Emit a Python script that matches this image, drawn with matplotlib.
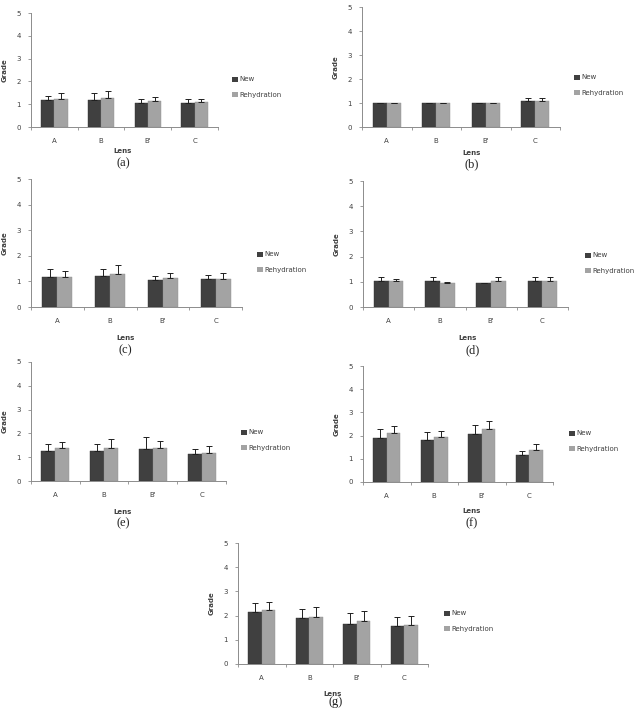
import matplotlib
matplotlib.use("Agg")
import matplotlib.pyplot as plt
import numpy as np
from matplotlib.patches import Patch

W, H = 638, 709

categories = ["A", "B", "B'", "C"]
series_names = ["New", "Rehydration"]
panel_labels = ["(a)", "(b)", "(c)", "(d)", "(e)", "(f)", "(g)"]

# mean values and upper error (+SD) for each panel
a_new = [1.17, 1.20, 1.06, 1.06]
a_new_err = [0.18, 0.28, 0.16, 0.16]
a_reh = [1.23, 1.27, 1.14, 1.09]
a_reh_err = [0.26, 0.31, 0.17, 0.16]

b_new = [1.00, 1.00, 1.00, 1.07]
b_new_err = [0.0, 0.0, 0.0, 0.12]
b_reh = [1.00, 1.00, 1.00, 1.07]
b_reh_err = [0.0, 0.0, 0.0, 0.12]

c_new = [1.19, 1.22, 1.06, 1.10]
c_new_err = [0.28, 0.27, 0.15, 0.16]
c_reh = [1.19, 1.30, 1.15, 1.10]
c_reh_err = [0.22, 0.34, 0.16, 0.21]

d_new = [1.05, 1.05, 0.96, 1.05]
d_new_err = [0.13, 0.13, 0.01, 0.13]
d_reh = [1.05, 0.96, 1.05, 1.05]
d_reh_err = [0.08, 0.02, 0.13, 0.13]

e_new = [1.28, 1.27, 1.33, 1.15]
e_new_err = [0.26, 0.29, 0.50, 0.18]
e_reh = [1.37, 1.37, 1.37, 1.19]
e_reh_err = [0.28, 0.40, 0.33, 0.28]

f_new = [1.89, 1.82, 2.05, 1.16]
f_new_err = [0.39, 0.33, 0.40, 0.16]
f_reh = [2.13, 1.92, 2.28, 1.38]
f_reh_err = [0.29, 0.29, 0.37, 0.27]

g_new = [2.16, 1.91, 1.67, 1.56]
g_new_err = [0.35, 0.35, 0.42, 0.38]
g_reh = [2.25, 1.96, 1.76, 1.63]
g_reh_err = [0.31, 0.40, 0.44, 0.35]

panels = [
    (a_new, a_new_err, a_reh, a_reh_err),
    (b_new, b_new_err, b_reh, b_reh_err),
    (c_new, c_new_err, c_reh, c_reh_err),
    (d_new, d_new_err, d_reh, d_reh_err),
    (e_new, e_new_err, e_reh, e_reh_err),
    (f_new, f_new_err, f_reh, f_reh_err),
    (g_new, g_new_err, g_reh, g_reh_err),
]

# layout in pixels: axes box (x0, ytop, x1, ybottom), legend (x, y), Lens label (x, y), caption (x, y)
layout = [
    ((31, 13, 218, 127), (229, 87), (123, 151), (123, 163)),
    ((362, 7, 560, 127), (571, 85), (472, 153), (472, 164)),
    ((31, 179, 242, 307), (254, 262), (126, 338), (125, 350)),
    ((363, 181, 568, 307), (582, 263), (468, 338), (473, 350)),
    ((31, 362, 226, 481), (238, 440), (123, 512), (123, 523)),
    ((363, 366, 553, 482), (566, 441), (472, 511), (472, 523)),
    ((238, 543, 428, 664), (441, 621), (333, 694), (336, 702)),
]

dark = "#404040"
light = "#a3a3a3"
axis_col = "#8c8c8c"
text_col = "#404040"

fig = plt.figure(figsize=(W / 100, H / 100), dpi=100)
fig.patch.set_facecolor("white")

bw = 1 / 3.5
x = np.arange(len(categories))

for (new, new_err, reh, reh_err), (box, leg, lens, cap), plabel in zip(panels, layout, panel_labels):
    x0, yt, x1, yb = box
    ax = fig.add_axes([x0 / W, 1 - yb / H, (x1 - x0) / W, (yb - yt) / H])
    ax.bar(x - bw / 2, new, bw, color=dark, edgecolor="#303030", linewidth=0.3)
    ax.bar(x + bw / 2, reh, bw, color=light, edgecolor="#909090", linewidth=0.3)
    ax.errorbar(x - bw / 2, new, yerr=[np.zeros(4), new_err], fmt="none",
                ecolor="#202020", elinewidth=0.7, capsize=2.2, capthick=0.7)
    ax.errorbar(x + bw / 2, reh, yerr=[np.zeros(4), reh_err], fmt="none",
                ecolor="#202020", elinewidth=0.7, capsize=2.2, capthick=0.7)
    ax.set_xlim(-0.5, 3.5)
    ax.set_ylim(0, 5)
    for s in ["top", "right"]:
        ax.spines[s].set_visible(False)
    for s in ["left", "bottom"]:
        ax.spines[s].set_color(axis_col)
        ax.spines[s].set_linewidth(0.7)
    ax.set_yticks(range(6))
    ax.set_yticklabels([str(v) for v in range(6)])
    ax.set_xticks(x)
    ax.set_xticklabels(categories)
    ax.set_xticks(np.arange(-0.5, 4.0, 1.0), minor=True)
    ax.tick_params(axis="x", which="major", length=0, labelsize=5, colors=text_col, pad=8)
    ax.tick_params(axis="x", which="minor", length=2.5, width=0.6, color=axis_col)
    ax.tick_params(axis="y", length=2.5, width=0.6, color=axis_col, labelsize=5,
                   labelcolor=text_col, pad=5)
    ax.set_ylabel("Grade", fontsize=5, fontweight="bold", color=text_col, labelpad=6)
    ax.set_facecolor("none")

    handles = [Patch(facecolor=dark, edgecolor="none"), Patch(facecolor=light, edgecolor="none")]
    fig.legend(handles, series_names, loc="center left",
               bbox_to_anchor=(leg[0] / W, 1 - leg[1] / H), frameon=False,
               fontsize=5, handlelength=0.75, handleheight=0.75, handletextpad=0.3,
               labelspacing=1.3, borderpad=0, labelcolor=text_col)

    fig.text(lens[0] / W, 1 - lens[1] / H, "Lens", ha="center", va="center",
             fontsize=5, fontweight="bold", color=text_col)
    fig.text(cap[0] / W, 1 - cap[1] / H, plabel, ha="center", va="center",
             fontsize=9, family="Liberation Serif", color="#222222")

fig.savefig("out.png", dpi=100, facecolor="white")
